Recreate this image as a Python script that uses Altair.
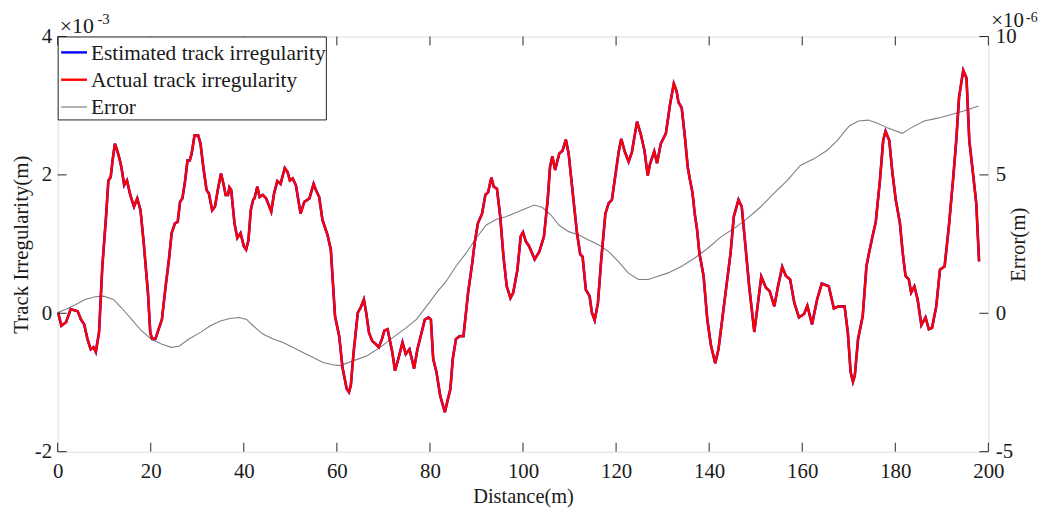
import altair as alt
import pandas as pd

# ---------------- data ----------------
dist_act = [0.1,0.8,1.8,2.8,4.3,5.0,5.7,6.4,7.1,7.7,
            8.2,8.9,9.6,10.4,10.9,11.4,11.8,12.3,12.8,13.3,
            13.7,14.3,14.9,15.6,16.4,17.1,17.8,18.5,19.4,19.9,
            20.3,21.0,21.7,22.4,23.2,23.9,24.5,25.2,25.8,26.3,
            26.8,27.4,27.9,28.4,28.8,29.4,30.2,30.7,31.3,32.0,
            32.5,33.2,33.8,34.4,35.1,35.6,36.1,36.6,36.9,37.3,
            38.0,38.6,39.3,40.0,40.5,41.0,41.5,42.0,42.3,42.9,
            43.4,44.1,44.8,45.9,46.5,47.2,47.9,48.8,49.4,49.9,
            50.5,51.2,52.2,53.0,54.1,55.0,55.5,56.2,56.9,58.0,
            58.7,59.6,60.5,61.2,62.1,62.6,63.0,63.6,64.5,65.1,
            65.8,66.3,66.9,67.6,68.3,69.0,69.7,70.2,70.9,71.9,
            72.5,73.2,74.1,74.8,75.6,76.6,77.3,78.2,78.9,79.7,
            80.2,80.7,81.4,82.2,83.2,83.9,84.4,84.9,85.6,86.4,
            87.2,88.2,89.1,89.6,90.3,91.2,91.9,92.5,93.2,93.7,
            94.4,95.1,95.8,96.5,97.3,97.9,98.8,99.5,100.0,100.6,
            101.3,102.0,102.5,103.5,104.5,105.3,105.8,106.3,106.9,107.8,
            108.5,109.2,109.8,110.7,111.6,112.3,112.8,113.5,114.3,114.8,
            115.4,116.1,116.8,117.7,118.4,119.1,119.9,120.6,121.1,121.9,
            122.7,123.4,124.5,125.3,126.1,126.8,127.3,128.2,128.8,129.6,
            130.7,131.6,132.4,133.0,133.4,134.1,134.8,135.4,135.9,136.4,
            136.9,137.4,137.9,138.8,139.6,140.4,141.3,142.0,142.9,143.7,
            144.6,145.3,146.3,147.0,147.8,148.6,149.7,150.4,151.2,152.2,
            153.0,154.0,154.8,155.7,156.5,157.4,158.3,159.3,160.4,161.1,
            162.1,163.2,164.2,165.7,166.8,167.8,169.1,169.8,170.4,170.9,
            171.3,172.0,173.0,173.8,174.5,175.1,175.8,176.7,177.4,177.9,
            178.7,179.4,180.1,181.0,181.6,182.2,182.9,183.4,184.1,184.8,
            185.6,186.5,187.2,187.9,188.8,189.6,190.6,191.5,192.4,193.1,
            193.7,194.6,195.3,195.9,196.7,197.4,198.0]

# actual track irregularity, in units of 1e-3 m
actual = [0.01,-0.18,-0.13,0.06,0.03,-0.09,-0.16,-0.37,-0.52,-0.49,
          -0.56,-0.27,0.68,1.40,1.92,1.97,2.21,2.45,2.35,2.23,
          2.11,1.85,1.92,1.71,1.54,1.66,1.49,1.01,0.30,-0.28,
          -0.37,-0.37,-0.23,-0.09,0.39,0.77,1.16,1.30,1.32,1.61,
          1.66,1.92,2.21,2.21,2.31,2.57,2.57,2.45,2.11,1.78,
          1.73,1.49,1.54,1.78,2.02,1.88,1.71,1.71,1.82,1.78,
          1.30,1.09,1.16,0.97,0.92,1.06,1.49,1.64,1.66,1.83,
          1.68,1.71,1.66,1.47,1.73,1.91,1.87,2.10,2.04,1.92,
          1.95,1.85,1.44,1.61,1.66,1.87,1.78,1.68,1.35,1.13,
          0.92,-0.04,-0.33,-0.78,-1.09,-1.14,-1.04,-0.56,0.01,0.08,
          0.20,0.01,-0.28,-0.40,-0.44,-0.49,-0.37,-0.25,-0.23,-0.56,
          -0.83,-0.66,-0.42,-0.59,-0.52,-0.80,-0.52,-0.28,-0.09,-0.06,
          -0.09,-0.66,-0.85,-1.19,-1.43,-1.23,-1.09,-0.66,-0.37,-0.33,
          -0.33,0.30,0.73,1.01,1.30,1.44,1.71,1.75,1.96,1.83,
          1.80,1.40,0.82,0.39,0.22,0.30,0.63,1.11,1.17,1.04,
          0.97,0.86,0.78,0.89,1.11,1.64,2.11,2.27,2.07,2.31,
          2.35,2.51,2.31,1.73,1.16,0.85,0.82,0.34,0.25,0.01,
          -0.10,0.15,0.77,1.44,1.59,1.64,2.02,2.35,2.52,2.33,
          2.19,2.33,2.77,2.59,2.35,1.99,2.16,2.34,2.17,2.45,
          2.60,3.02,3.32,3.21,3.05,2.97,2.54,2.11,1.92,1.75,
          1.44,1.21,0.87,0.54,-0.09,-0.47,-0.72,-0.52,-0.04,0.39,
          0.87,1.40,1.64,1.54,0.97,0.39,-0.27,0.10,0.53,0.37,
          0.32,0.10,0.39,0.67,0.54,0.49,0.15,-0.06,-0.01,0.11,
          -0.16,0.20,0.43,0.39,0.07,0.10,0.10,-0.28,-0.85,-0.99,
          -0.90,-0.37,-0.04,0.68,0.92,1.11,1.32,1.92,2.50,2.63,
          2.50,2.02,1.64,1.30,0.87,0.54,0.49,0.30,0.39,0.20,
          -0.17,-0.06,-0.23,-0.21,0.10,0.63,0.68,1.25,1.92,2.50,
          3.12,3.51,3.40,2.50,2.02,1.59,0.75]

# estimated irregularity coincides with the actual one (hidden under the red line)
estimated = list(actual)

dist_err = [0,1.7,3.9,5.9,8.1,9.9,12.0,13.7,15.9,18.0,
            20.1,22.3,24.4,26.1,28.2,30.7,32.8,35.0,37.0,39.1,
            40.6,42.0,44.1,46.3,48.3,50.5,52.6,54.8,56.9,59.1,
            60.7,63.6,66.5,69.3,72.1,75.0,77.1,79.3,81.4,83.5,
            85.6,87.8,89.9,92.1,94.2,96.3,98.4,100.6,102.4,104.2,
            106.0,107.7,109.8,112.0,114.1,116.3,118.4,120.5,122.6,124.8,
            126.9,129.0,131.2,134.1,136.9,139.7,142.6,145.4,148.2,151.1,
            153.9,156.8,159.6,162.5,165.3,167.5,170.1,172.1,174.2,176.3,
            178.4,181.5,183.3,186.2,189.1,191.9,194.7,197.9]

# error, in units of 1e-6 m
error = [0.03,0.14,0.32,0.50,0.60,0.62,0.50,0.20,-0.22,-0.63,
         -0.93,-1.11,-1.23,-1.19,-0.93,-0.69,-0.45,-0.28,-0.19,-0.15,
         -0.22,-0.45,-0.75,-0.93,-1.05,-1.23,-1.41,-1.59,-1.77,-1.86,
         -1.89,-1.71,-1.53,-1.23,-0.87,-0.51,-0.22,0.26,0.74,1.16,
         1.70,2.18,2.71,3.19,3.39,3.49,3.63,3.79,3.91,3.82,
         3.55,3.19,2.95,2.83,2.65,2.47,2.23,1.87,1.46,1.22,
         1.22,1.34,1.46,1.70,2.00,2.35,2.77,3.07,3.43,3.85,
         4.33,4.80,5.34,5.58,5.88,6.24,6.77,6.95,6.98,6.86,
         6.69,6.50,6.69,6.95,7.05,7.17,7.31,7.49]

x_tick_values = [0, 20, 40, 60, 80, 100, 120, 140, 160, 180, 200]
left_tick_values = [-2, 0, 2, 4]
right_tick_values = [-5, 0, 5, 10]

legend_labels = ["Estimated track irregularity", "Actual track irregularity", "Error"]
legend_colors = ["#0000FF", "#FF0000", "#808080"]
legend_widths = [2.4, 2.4, 1.2]

# ---------------- styling ----------------
W, H = 937, 418
FONT = "Liberation Serif"
TXT = "#1a1a1a"
AX = "#262626"
TL = 9
FS = 21

act_df = pd.DataFrame({"d": dist_act, "v": actual})
est_df = pd.DataFrame({"d": dist_act, "v": estimated})
err_df = pd.DataFrame({"d": dist_err, "e": error})
xt_df = pd.DataFrame({"d": x_tick_values})
lt_df = pd.DataFrame({"v": left_tick_values})
rt_df = pd.DataFrame({"e": right_tick_values})

xscale = alt.Scale(domain=[0, 200], nice=False, zero=False)
lscale = alt.Scale(domain=[-2, 4], nice=False, zero=False)
rscale = alt.Scale(domain=[-5, 10], nice=False, zero=False)

common = dict(ticks=False, tickSize=0, domain=False, grid=False,
              labelFont=FONT, labelFontSize=FS, labelColor=TXT,
              titleFont=FONT, titleFontWeight="normal",
              titleColor=TXT, labelOverlap=False, labelFlush=False,
              labelExpr="'' + datum.value")

xaxis = alt.Axis(values=x_tick_values, title="Distance(m)", orient="bottom",
                 labelPadding=9, titlePadding=5, titleFontSize=20.5, **common)
laxis = alt.Axis(values=left_tick_values, title="Track Irregularity(m)", orient="left",
                 labelPadding=6, titlePadding=3, titleFontSize=FS, **common)
raxis = alt.Axis(values=right_tick_values, title="Error(m)", orient="right",
                 labelPadding=7, titlePadding=12, titleAngle=270, titleFontSize=FS, **common)

X = alt.X("d:Q", scale=xscale, axis=xaxis)
YL = alt.Y("v:Q", scale=lscale, axis=laxis)
YR = alt.Y("e:Q", scale=rscale, axis=raxis)

est_line = alt.Chart(est_df).mark_line(color="#0000FF", strokeWidth=2.6).encode(x=X, y=YL)
act_line = alt.Chart(act_df).mark_line(color="#FF0000", strokeWidth=2.4).encode(x=X, y=YL)
bottom_ticks = alt.Chart(xt_df).mark_rule(color=AX, strokeWidth=1).encode(
    x=X, y=alt.value(H), y2=alt.value(H - TL))
top_ticks = alt.Chart(xt_df).mark_rule(color=AX, strokeWidth=1).encode(
    x=X, y=alt.value(0), y2=alt.value(TL))
left_ticks = alt.Chart(lt_df).mark_rule(color=AX, strokeWidth=1).encode(
    y=YL, x=alt.value(0), x2=alt.value(TL))

left_group = alt.layer(est_line, act_line, bottom_ticks, top_ticks, left_ticks)

err_line = alt.Chart(err_df).mark_line(color="#808080", strokeWidth=1.1).encode(x=X, y=YR)
right_ticks = alt.Chart(rt_df).mark_rule(color=AX, strokeWidth=1).encode(
    y=YR, x=alt.value(W), x2=alt.value(W - TL))
right_group = alt.layer(err_line, right_ticks)

# exponent annotations
def txt(s, x, y, size, align="left"):
    return alt.Chart(pd.DataFrame({"a": [0]})).mark_text(
        text=s, font=FONT, fontSize=size, color=TXT, align=align, baseline="alphabetic"
    ).encode(x=alt.value(x), y=alt.value(y))

exp_layers = [
    txt("\u00d710", 2, -4, 22), txt("-3", 40, -13, 15),
    txt("\u00d710", 940, -10, 21), txt("-6", 975, -15, 14),
]

# legend (drawn inside the plot area, top-left)
leg_box = alt.Chart(pd.DataFrame({"a": [0]})).mark_rect(
    fill="white", stroke=AX, strokeWidth=1
).encode(x=alt.value(0.5), x2=alt.value(270.5), y=alt.value(0.5), y2=alt.value(84))
leg_layers = [leg_box]
row_line_y = [16, 43.5, 71]
row_text_y = [23.5, 51, 78.5]
for lab, col, sw, ly, ty in zip(legend_labels, legend_colors, legend_widths, row_line_y, row_text_y):
    leg_layers.append(alt.Chart(pd.DataFrame({"a": [0]})).mark_rule(color=col, strokeWidth=sw).encode(
        x=alt.value(3.5), x2=alt.value(29.5), y=alt.value(ly)))
    leg_layers.append(txt(lab, 33.5, ty, 21.5))

chart = alt.layer(right_group, left_group, *exp_layers, *leg_layers).resolve_scale(
    y="independent"
).properties(
    width=W, height=H,
    padding={"left": 50, "top": 27, "right": 55, "bottom": 56},
    autosize=alt.AutoSizeParams(type="none"),
).configure_view(stroke=AX, strokeWidth=1).configure(background="white")

chart.save("out.html", embed_options={"renderer": "svg", "actions": False})
